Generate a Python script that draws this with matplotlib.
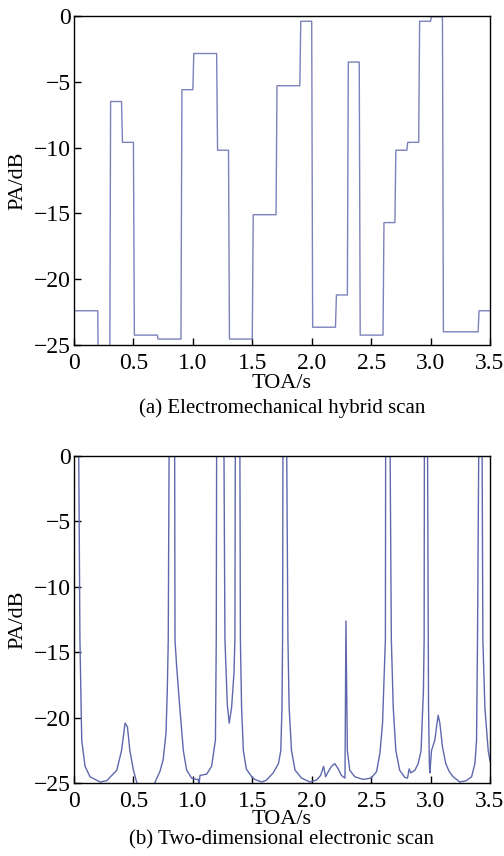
import numpy as np
import matplotlib
matplotlib.use("Agg")
import matplotlib.pyplot as plt

# (a) electromechanical hybrid scan: step levels between edges
edges_a = [0, 0.2, 0.3, 0.4, 0.5, 0.7, 0.9, 1.0, 1.2, 1.3, 1.5, 1.7, 1.9, 2.0,
           2.2, 2.3, 2.4, 2.6, 2.7, 2.8, 2.9, 3.0, 3.1, 3.4, 3.5]
levels_a = [-22.4, -30, -6.5, -9.6, -24.25, -24.55, -5.6, -2.85, -10.2, -24.55,
            -15.1, -5.3, -0.4, -23.65, -21.2, -3.5, -24.25, -15.7, -10.2, -9.6,
            -0.4, -0.05, -24.0, -22.4]

# (b) two-dimensional electronic scan: traced curve
toa_b = [0.0, 0.04, 0.05, 0.065, 0.093, 0.135, 0.22, 0.275, 0.36, 0.40, 0.43,
         0.45, 0.47, 0.50, 0.527, 0.56, 0.65, 0.69, 0.723, 0.75, 0.774, 0.785,
         0.793, 0.80, 0.822, 0.847, 0.85, 0.864, 0.89, 0.92, 0.948, 0.99, 1.03,
         1.045, 1.052, 1.06, 1.116, 1.158, 1.19, 1.197, 1.2, 1.23, 1.262, 1.27,
         1.29, 1.306, 1.326, 1.346, 1.354, 1.357, 1.375, 1.396, 1.40, 1.41,
         1.425, 1.45, 1.495, 1.52, 1.55, 1.58, 1.62, 1.676, 1.72, 1.74, 1.75,
         1.755, 1.758, 1.773, 1.79, 1.80, 1.81, 1.83, 1.86, 1.915, 1.985, 2.04,
         2.075, 2.10, 2.117, 2.14, 2.167, 2.195, 2.223, 2.25, 2.28, 2.288, 2.30,
         2.32, 2.363, 2.433, 2.50, 2.546, 2.574, 2.596, 2.61, 2.62, 2.622, 2.64,
         2.66, 2.67, 2.686, 2.708, 2.74, 2.784, 2.806, 2.82, 2.834, 2.868, 2.896,
         2.92, 2.94, 2.946, 2.948, 2.962, 2.975, 2.983, 2.99, 2.994, 3.008,
         3.036, 3.05, 3.064, 3.078, 3.10, 3.128, 3.157, 3.19, 3.246, 3.30,
         3.345, 3.373, 3.387, 3.395, 3.405, 3.42, 3.434, 3.44, 3.457, 3.485, 3.50]
pa_b = [3, 0, -14, -21.7, -23.7, -24.5, -24.9, -24.8, -24.0, -22.5, -20.4,
        -20.7, -22.5, -24.0, -24.9, -25.6, -25.6, -24.75, -24.1, -23.2, -21.2, -17.9,
        -14.1, 0, 3, 0, -14.1, -16.1, -19.2, -22.5, -24.0, -24.6, -24.7,
        -24.7, -25.1, -24.4, -24.3, -23.7, -21.7, -14, 0, 3, 0, -14,
        -19, -20.4, -19.2, -16.6, -14, 0, 3, 0, -14, -19.2,
        -22.5, -23.9, -24.5, -24.7, -24.8, -24.9, -24.75, -24.2, -23.5, -22.5, -19.2,
        -14, 0, 3, 0, -14, -19.2, -22.5, -24.0, -24.6, -24.9, -24.75,
        -24.4, -23.7, -24.5, -24.1, -23.7, -23.5, -23.9, -24.4, -24.6, -12.6, -22.5,
        -24.0, -24.5, -24.7, -24.6, -24.1, -22.7, -20.4, -16.6, -14, 0, 3,
        0, -14, -19.2, -22.5, -24.0, -24.55, -24.6, -23.9, -24.2, -24.0, -23.5,
        -22.5, -17.9, -14, 0, 3, 0, -19.2, -23.5, -24.2, -22.5,
        -21.7, -20.7, -19.8, -20.4, -22.2, -23.5, -24.1, -24.5, -24.9, -24.8,
        -24.5, -23.5, -21.7, -14, 0, 3, 0, -14, -19.2, -22.5, -23.3]

xticks = [0, 0.5, 1.0, 1.5, 2.0, 2.5, 3.0, 3.5]
xticklabels = ["0", "0.5", "1.0", "1.5", "2.0", "2.5", "3.0", "3.5"]
yticks = [-25, -20, -15, -10, -5, 0]

plt.rcParams['font.family'] = ['Liberation Serif', 'DejaVu Serif']


def step_xy(edges, levels, ramp=0.008):
    xs, ys = [], []
    for i, lv in enumerate(levels):
        x0 = edges[i] + (ramp if i > 0 else 0)
        xs += [x0, edges[i + 1]]
        ys += [lv, lv]
    return xs, ys


def style_axes(ax, caption, xlab_y, cap_y):
    ax.set_xlim(0, 3.5)
    ax.set_ylim(-25, 0)
    ax.set_xticks(xticks)
    ax.set_xticklabels(xticklabels)
    ax.set_yticks(yticks)
    ax.tick_params(direction='in', length=5, width=1, labelsize=17,
                   top=False, right=False)
    ax.tick_params(axis='x', pad=5.5)
    ax.tick_params(axis='y', pad=2.5)
    for s in ax.spines.values():
        s.set_linewidth(1.0)
    ax.set_xlabel('TOA/s', fontsize=16, va='center')
    ax.xaxis.set_label_coords(0.5, xlab_y)
    ax.set_ylabel('PA/dB', fontsize=16, va='center')
    ax.yaxis.set_label_coords(-0.135, 0.5)
    ax.text(0.5, cap_y, caption, transform=ax.transAxes, ha='center',
            va='center', fontsize=15)


fig = plt.figure(figsize=(5.04, 8.56), dpi=100)
ax1 = fig.add_axes([0.1468, 0.5970, 0.8254, 0.3843])
ax2 = fig.add_axes([0.1468, 0.0849, 0.8254, 0.3824])

xa, ya = step_xy(edges_a, levels_a)
ax1.plot(xa, ya, color='#7c82bb', lw=1.0)
style_axes(ax1, '(a) Electromechanical hybrid scan', -0.117, -0.192)

ax2.plot(toa_b, pa_b, color='#5f68ad', lw=1.0)
style_axes(ax2, '(b) Two-dimensional electronic scan', -0.112, -0.173)

fig.savefig('out.png', dpi=100)
